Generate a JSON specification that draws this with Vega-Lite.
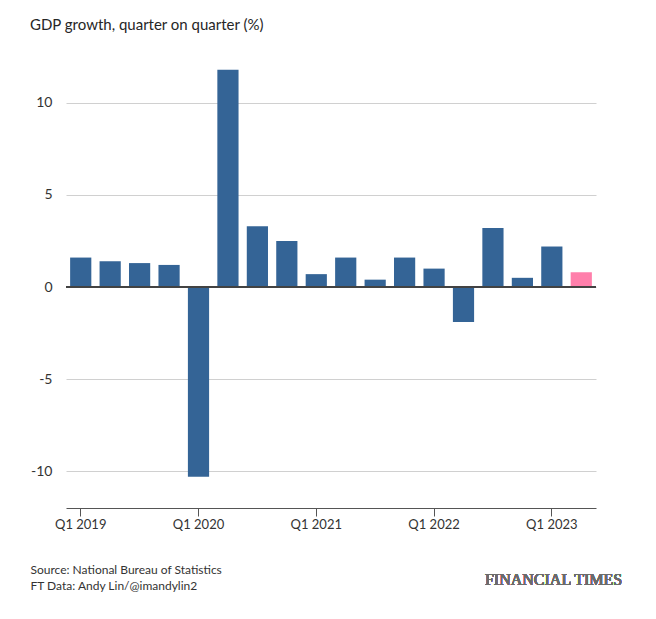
{
"$schema":"https://vega.github.io/schema/vega-lite/v6.json",
"autosize":{"type":"none"},
"width":530,"height":453,
"padding":{"left":66,"top":55,"right":60,"bottom":111},
"background":"white",
"config":{"font":"Lato","view":{"stroke":null}},
"title":{"text":"GDP growth, quarter on quarter (%)","anchor":"start","frame":"group","dx":-36,"offset":22,"fontSize":15,"fontWeight":"normal","color":"#262626"},
"data":{"values":[
{"q":"Q1 2019","v":1.6,"c":"a"},{"q":"Q2 2019","v":1.4,"c":"a"},{"q":"Q3 2019","v":1.3,"c":"a"},{"q":"Q4 2019","v":1.2,"c":"a"},
{"q":"Q1 2020","v":-10.3,"c":"a"},{"q":"Q2 2020","v":11.8,"c":"a"},{"q":"Q3 2020","v":3.3,"c":"a"},{"q":"Q4 2020","v":2.5,"c":"a"},
{"q":"Q1 2021","v":0.7,"c":"a"},{"q":"Q2 2021","v":1.6,"c":"a"},{"q":"Q3 2021","v":0.4,"c":"a"},{"q":"Q4 2021","v":1.6,"c":"a"},
{"q":"Q1 2022","v":1.0,"c":"a"},{"q":"Q2 2022","v":-1.9,"c":"a"},{"q":"Q3 2022","v":3.2,"c":"a"},{"q":"Q4 2022","v":0.5,"c":"a"},
{"q":"Q1 2023","v":2.2,"c":"a"},{"q":"Q2 2023","v":0.8,"c":"b"}
]},
"layer":[
{"mark":{"type":"bar"},
"encoding":{
"x":{"field":"q","type":"ordinal","sort":null,"scale":{"paddingInner":0.28,"paddingOuter":0.14},
"axis":{"labelAngle":0,"labelExpr":"indexof(datum.value,'Q1')==0 ? datum.value : ''","tickOpacity":{"expr":"indexof(datum.value,'Q1')==0 ? 1 : 0"},"tickSize":8,"tickColor":"#555","domainColor":"#555","labelFontSize":13,"labelColor":"#333","labelPadding":2,
"title":["Source: National Bureau of Statistics","FT Data: Andy Lin/@imandylin2"],"titleAnchor":"start","titleAlign":"left","titleX":-36,"titleY":56,"titleBaseline":"top","titleFontSize":12,"titleFontWeight":"normal","titleColor":"#333","titleLineHeight":16}},
"y":{"field":"v","type":"quantitative","scale":{"domain":[-12,12.6],"nice":false},
"axis":{"values":[-10,-5,0,5,10],"title":null,"domain":false,"ticks":false,"labelPadding":14,"labelFontSize":14,"labelColor":"#333","gridColor":"#d0d0d0","labelExpr":"datum.value<0 ? '-'+abs(datum.value) : datum.label"}},
"color":{"field":"c","type":"nominal","scale":{"domain":["a","b"],"range":["#346496","#ff7fab"]},"legend":null}
}},
{"mark":{"type":"rule","color":"#444","strokeWidth":1},"encoding":{"y":{"datum":0}}},
{"mark":{"type":"text","text":"FINANCIAL TIMES","font":"Liberation Serif","fontSize":16,"color":"#6b6b6b","align":"right","dx":41,"baseline":"middle"},
"encoding":{"x":{"datum":"Q2 2023"},"y":{"datum":-15.9}}}
]
}
